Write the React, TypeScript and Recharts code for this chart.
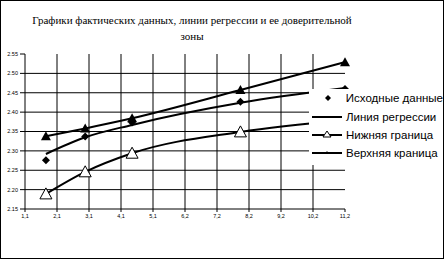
import React from 'react';
import { ComposedChart, Line, XAxis, YAxis, CartesianGrid } from 'recharts';

const xValues = [1.76, 3.0, 4.48, 7.9, 11.2];
const actual = [2.276, 2.337, 2.373, 2.427, 2.46];
const regression = [2.292, 2.335, 2.367, 2.424, 2.462];
const lower = [2.189, 2.246, 2.294, 2.349, 2.379];
const upper = [2.338, 2.358, 2.384, 2.457, 2.529];

const xTicks = [1.1, 2.11, 3.12, 4.13, 5.14, 6.15, 7.16, 8.17, 9.18, 10.19, 11.2];
const xTickLabels = ['1,1', '2,1', '3,1', '4,1', '5,1', '6,2', '7,2', '8,2', '9,2', '10,2', '11,2'];
const yTicks = [2.15, 2.2, 2.25, 2.3, 2.35, 2.4, 2.45, 2.5, 2.55];

const titleLines = ['Графики фактических данных, линии регрессии и ее доверительной', 'зоны'];
const legendNames = ['Исходные данные', 'Линия регрессии', 'Нижняя граница', 'Верхняя краница'];

const data = xValues.map((x, i) => ({
  x,
  actual: actual[i],
  regression: regression[i],
  lower: lower[i],
  upper: upper[i],
}));

const Diamond = (props: any) => {
  const { cx, cy } = props;
  if (cx == null || cy == null) return null;
  return <polygon points={`${cx},${cy - 4} ${cx + 4},${cy} ${cx},${cy + 4} ${cx - 4},${cy}`} fill="#000" />;
};

const FilledTri = (props: any) => {
  const { cx, cy } = props;
  if (cx == null || cy == null) return null;
  return <polygon points={`${cx},${cy - 5} ${cx + 5},${cy + 4} ${cx - 5},${cy + 4}`} fill="#000" />;
};

const OpenTri = (props: any) => {
  const { cx, cy } = props;
  if (cx == null || cy == null) return null;
  return (
    <polygon
      points={`${cx},${cy - 6} ${cx + 6},${cy + 5} ${cx - 6},${cy + 5}`}
      fill="#fff"
      stroke="#000"
      strokeWidth={1}
    />
  );
};

const LegendBox = () => {
  const marker = (i: number) => {
    if (i === 0) return <polygon points="16,2 19,5 16,8 13,5" fill="#000" />;
    return (
      <g>
        <line x1={0} y1={5} x2={30} y2={5} stroke="#000" strokeWidth={2} />
        {i === 2 && <polygon points="15,1 19,7 11,7" fill="#fff" stroke="#000" />}
        {i === 3 && <polygon points="15,3 17,6 13,6" fill="#000" />}
      </g>
    );
  };
  return (
    <div
      style={{
        position: 'absolute',
        left: 308,
        top: 88,
        width: 134,
        height: 76,
        background: '#fff',
        fontFamily: '"Liberation Sans", Arial, sans-serif',
        fontSize: 11.5,
      }}
    >
      {legendNames.map((name) => (
        <div key={name} style={{ display: 'flex', alignItems: 'center', height: 18.4 }}>
          <svg width={33} height={10} style={{ marginLeft: 3 }}>
            {marker(legendNames.indexOf(name))}
          </svg>
          <span style={{ marginLeft: 1, whiteSpace: 'nowrap' }}>{name}</span>
        </div>
      ))}
    </div>
  );
};

export default function App() {
  return (
    <div
      style={{
        position: 'absolute',
        left: 0,
        top: 0,
        width: 444,
        height: 259,
        boxSizing: 'border-box',
        border: '1px solid #000',
        background: '#fff',
        overflow: 'hidden',
      }}
    >
      <div
        style={{
          position: 'absolute',
          left: 0,
          top: 11,
          width: 382,
          textAlign: 'center',
          fontFamily: '"Liberation Serif", "Times New Roman", serif',
          fontSize: 11,
          lineHeight: '16px',
          whiteSpace: 'nowrap',
        }}
      >
        {titleLines.map((t) => (
          <div key={t}>{t}</div>
        ))}
      </div>
      <ComposedChart
        width={442}
        height={257}
        data={data}
        margin={{ top: 53, right: 98, bottom: 29, left: 0 }}
      >
        <CartesianGrid
          stroke="#000"
          horizontalValues={yTicks.slice(1, -1)}
          verticalValues={xTicks.slice(1, -1)}
        />
        <XAxis
          type="number"
          dataKey="x"
          domain={[1.1, 11.2]}
          ticks={xTicks}
          tickFormatter={(v: number) => xTickLabels[xTicks.indexOf(v)] ?? ''}
          stroke="#000"
          tickSize={3}
          height={20}
          tick={{ fontSize: 5.5, fill: '#000', fontFamily: 'Arial, sans-serif' }}
          interval={0}
        />
        <YAxis
          type="number"
          domain={[2.15, 2.55]}
          ticks={yTicks}
          tickFormatter={(v: number) => v.toFixed(2)}
          stroke="#000"
          tickSize={5}
          width={24}
          tick={{ fontSize: 5.5, fill: '#000', fontFamily: 'Arial, sans-serif' }}
          interval={0}
        />
        <Line
          dataKey="regression"
          type="monotone"
          stroke="#000"
          strokeWidth={2}
          dot={false}
          isAnimationActive={false}
        />
        <Line
          dataKey="lower"
          type="monotone"
          stroke="#000"
          strokeWidth={2}
          dot={<OpenTri />}
          isAnimationActive={false}
        />
        <Line
          dataKey="upper"
          type="monotone"
          stroke="#000"
          strokeWidth={2}
          dot={<FilledTri />}
          isAnimationActive={false}
        />
        <Line
          dataKey="actual"
          stroke="none"
          dot={<Diamond />}
          activeDot={false}
          isAnimationActive={false}
        />
      </ComposedChart>
      <LegendBox />
    </div>
  );
}
